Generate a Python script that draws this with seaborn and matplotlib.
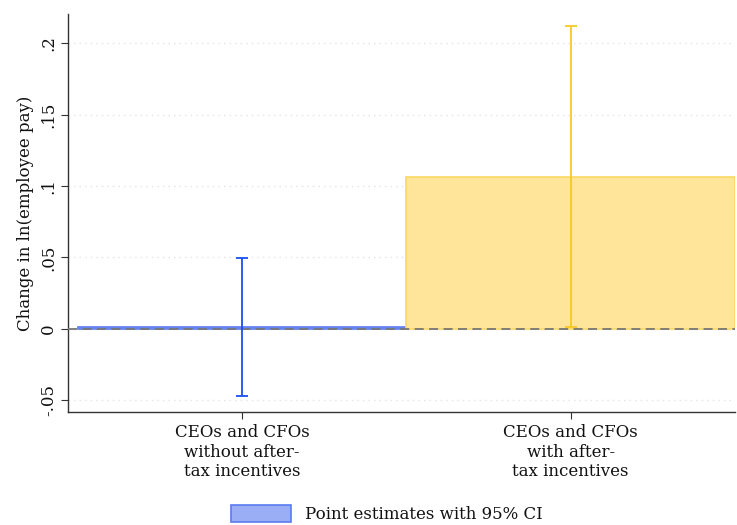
import numpy as np
import pandas as pd
import matplotlib
matplotlib.use('Agg')
import matplotlib.pyplot as plt
import seaborn as sns
from matplotlib.patches import Patch

# values
groups = ['CEOs and CFOs\nwithout after-\ntax incentives', 'CEOs and CFOs\nwith after-\ntax incentives']
estimates = [0.001, 0.1065]
ci_low = [-0.0475, 0.001]
ci_high = [0.0495, 0.2125]
yticks = [-0.05, 0, 0.05, 0.1, 0.15, 0.2]
ytick_labels = ['-.05', '0', '.05', '.1', '.15', '.2']

fill_colors = ['#9AAEF5', '#FEE59A']
edge_colors = ['#5A7BEF', '#F9D864']
ci_colors = ['#1650F2', '#F8C825']

sns.set_style('white')
plt.rcParams['font.family'] = ['DejaVu Serif']
plt.rcParams['text.color'] = '#111111'
plt.rcParams['xtick.color'] = '#111111'
plt.rcParams['ytick.color'] = '#111111'
plt.rcParams['axes.labelcolor'] = '#111111'

df = pd.DataFrame({'group': groups, 'est': estimates})

fig = plt.figure(figsize=(7.37, 5.25), dpi=100)
ax = fig.add_axes([0.0923, 0.215, 0.905, 0.758])

sns.barplot(data=df, x='group', y='est', hue='group', palette=fill_colors, saturation=1,
            width=1.0, legend=False, ax=ax, zorder=2)
for p, ec in zip(ax.patches, edge_colors):
    p.set_edgecolor(ec)
    p.set_linewidth(1.2)

# zero line
ax.axhline(0, color='#777777', lw=1.3, ls=(0, (5, 3)), zorder=3)

# 95% CIs
for i in range(len(groups)):
    ax.errorbar(i, estimates[i],
                yerr=[[estimates[i] - ci_low[i]], [ci_high[i] - estimates[i]]],
                fmt='none', ecolor=ci_colors[i], elinewidth=1.3, capsize=4.5, capthick=1.3, zorder=4)

ax.set_xlim(-0.53, 1.5)
ax.set_ylim(-0.0585, 0.2205)
ax.set_yticks(yticks)
ax.set_yticklabels(ytick_labels, rotation=90, va='center', fontsize=12)
ax.tick_params(axis='x', labelsize=12, length=5, color='#333333', direction='out', bottom=True)
ax.tick_params(axis='y', length=5, color='#333333', direction='out', left=True, pad=3)
ax.yaxis.grid(True, color='#e4e4e4', ls=(0, (1, 3)), lw=1)
ax.set_axisbelow(True)
ax.set_xlabel('')
ax.set_ylabel('Change in ln(employee pay)', fontsize=12, labelpad=4)

for s in ['top', 'right']:
    ax.spines[s].set_visible(False)
for s in ['left', 'bottom']:
    ax.spines[s].set_color('#333333')
    ax.spines[s].set_linewidth(1.0)

handle = Patch(facecolor='#9AAEF5', edgecolor='#5A7BEF', lw=1.2)
fig.legend([handle], ['Point estimates with 95% CI'], loc='center', bbox_to_anchor=(0.525, 0.021),
           frameon=False, fontsize=12, handlelength=3.6, handleheight=1.2)

fig.savefig('out.png', dpi=100)
